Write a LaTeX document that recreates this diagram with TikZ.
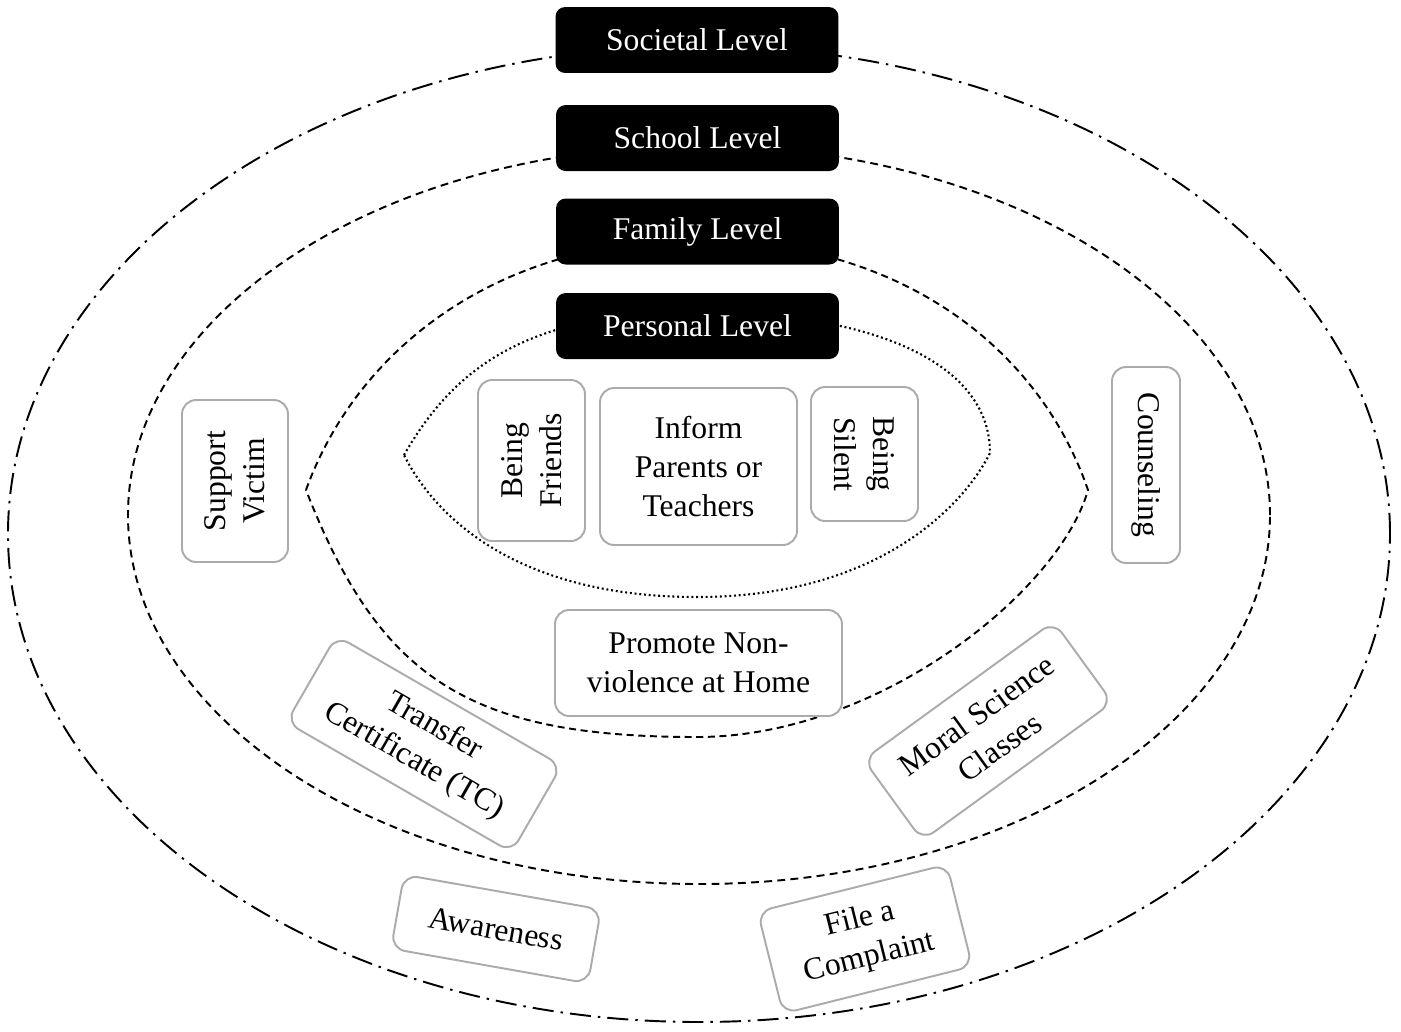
\documentclass[tikz,border=0pt]{standalone}
\usepackage{fontspec}
\setmainfont{Liberation Serif}
\begin{document}
\begin{tikzpicture}[x=0.02cm,y=0.02cm,
  every node/.style={font=\fontsize{18}{22.4}\selectfont, align=center, inner sep=0pt},
  levelbox/.style={fill=black, text=white, rounded corners=5.5pt,
    minimum width=5.66cm, minimum height=1.32cm},
  itembox/.style={draw=black!33, line width=1.1pt, fill=white, rounded corners=8pt},
  societal/.style={line width=1.1pt, dash pattern=on 12pt off 4pt on 1.4pt off 4pt},
  school/.style={line width=1.1pt, dash pattern=on 4.5pt off 3pt},
  family/.style={line width=1.1pt, dash pattern=on 4pt off 2.6pt},
  personal/.style={line width=1.2pt, dash pattern=on 1.1pt off 1.6pt}]
\useasboundingbox (0,0) rectangle (1401,-1032);

% level boundaries
\draw[societal] (699,-534) ellipse [x radius=691, y radius=488];
\draw[school] (699,-515) ellipse [x radius=571, y radius=369];
\draw[family] (306,-490)
  .. controls (357,-349) and (497,-240) .. (697,-240)
  .. controls (897,-240) and (1038,-345) .. (1088,-490)
  .. controls (1060,-590) and (880,-737) .. (697,-737)
  .. controls (470,-737) and (380,-680) .. cycle;
\draw[personal] (404,-455)
  .. controls (454,-368) and (527,-312) .. (697,-312)
  .. controls (867,-312) and (990,-360) .. (990,-453)
  .. controls (963,-507) and (877,-597) .. (697,-597)
  .. controls (517,-597) and (435,-517) .. cycle;

% level labels
\node[levelbox] (societal) at (697,-40) {Societal Level};
\node[levelbox] (school) at (697.5,-138) {School Level};
\node[levelbox] (family) at (697.5,-231.5) {Family Level};
\node[levelbox] (personal) at (697.5,-326) {Personal Level};

% personal level actions
\node[itembox, rotate=90, minimum width=3.22cm, minimum height=2.14cm] (friends) at (531.5,-460.5) {Being\\Friends};
\node[itembox, minimum width=3.94cm, minimum height=3.14cm] (inform) at (698.5,-466.5) {Inform\\Parents or\\Teachers};
\node[itembox, rotate=-90, minimum width=2.68cm, minimum height=2.14cm] (silent) at (864.5,-454) {Being\\Silent};

% family level actions
\node[itembox, minimum width=5.74cm, minimum height=2.12cm] (promote) at (698.5,-663) {Promote Non-\\violence at Home};

% school level actions
\node[itembox, rotate=90, minimum width=3.24cm, minimum height=2.12cm] (support) at (235,-481) {Support\\Victim};
\node[itembox, rotate=-90, minimum width=3.92cm, minimum height=1.36cm] (counsel) at (1146,-465) {Counseling};
\node[itembox, rotate=-30, minimum width=5.2cm, minimum height=2.0cm] (transfer) at (424,-744) {Transfer\\Certificate (TC)};
\node[itembox, rotate=36, minimum width=4.7cm, minimum height=2.0cm] (moral) at (988,-731) {Moral Science\\Classes};

% societal level actions
\node[itembox, rotate=-10, minimum width=4.0cm, minimum height=1.5cm] (aware) at (496,-929) {Awareness};
\node[itembox, rotate=14, minimum width=3.9cm, minimum height=2.1cm] (complaint) at (865,-939) {File a\\Complaint};
\end{tikzpicture}
\end{document}
